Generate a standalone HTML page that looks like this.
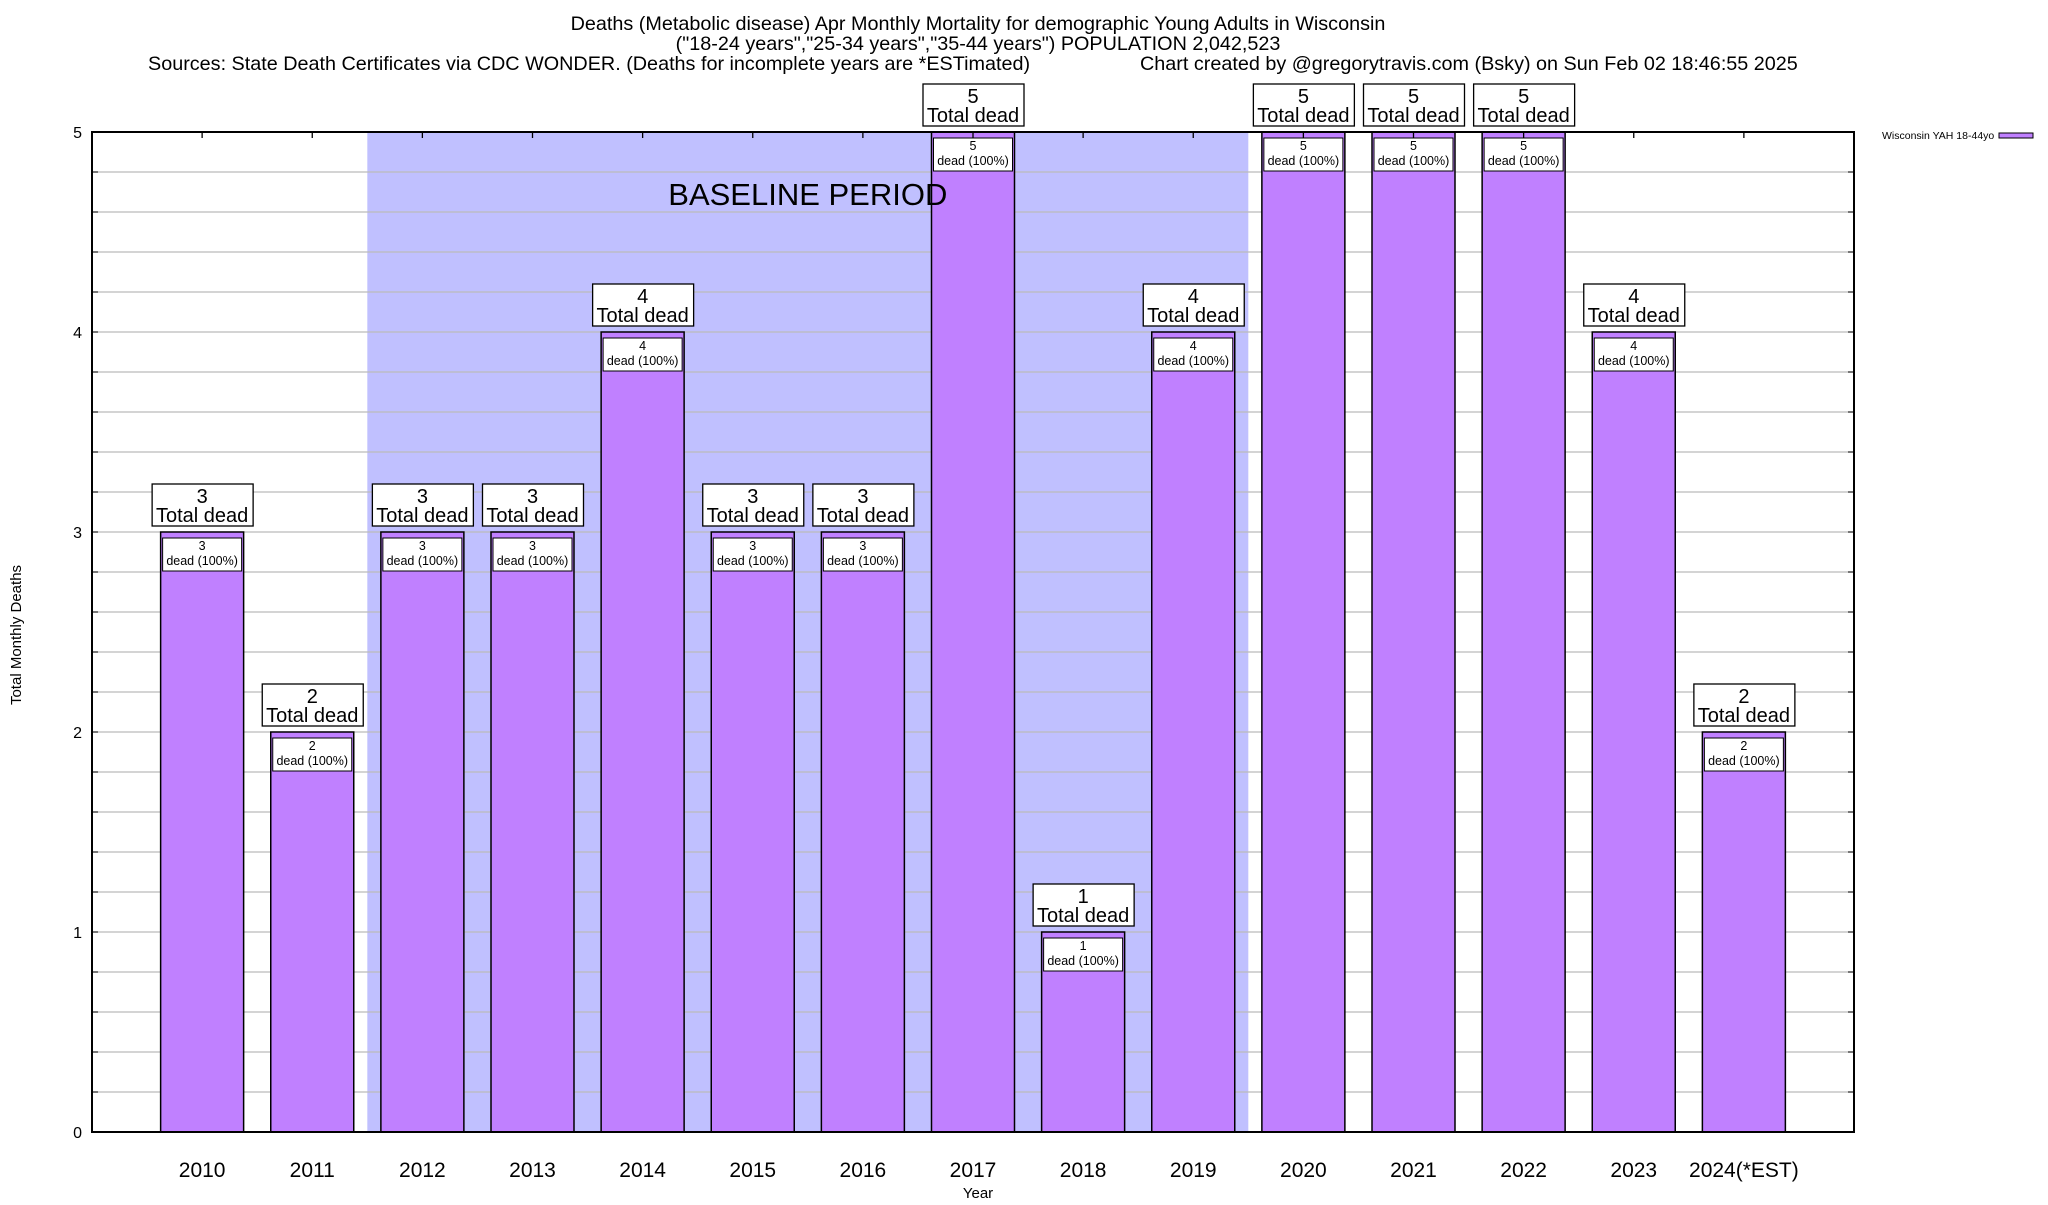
<!DOCTYPE html>
<html><head><meta charset="utf-8"><style>
body{margin:0;background:#fff;}
svg text{font-family:"Liberation Sans",sans-serif;fill:#000;}
</style></head><body>
<svg id="chart" width="2048" height="1200" xmlns="http://www.w3.org/2000/svg">
<text x="978" y="30" font-size="19.8" text-anchor="middle">Deaths (Metabolic disease) Apr Monthly Mortality for demographic Young Adults in Wisconsin</text>
<text x="978" y="50" font-size="19.8" text-anchor="middle">("18-24 years","25-34 years","35-44 years") POPULATION 2,042,523</text>
<text x="148" y="70" font-size="19.8">Sources: State Death Certificates via CDC WONDER. (Deaths for incomplete years are *ESTimated)</text>
<text x="1140" y="70" font-size="19.8">Chart created by @gregorytravis.com (Bsky) on Sun Feb 02 18:46:55 2025</text>
<g id="plot"></g>
<text x="1882" y="139" font-size="10.5">Wisconsin YAH 18-44yo</text>
<rect x="1999" y="133" width="34" height="5" fill="#c080ff" stroke="#000" stroke-width="1"/>
<text transform="translate(21,635) rotate(-90)" font-size="15" text-anchor="middle">Total Monthly Deaths</text>
<text x="978" y="1198" font-size="15" text-anchor="middle">Year</text>
</svg>
<script>
const categories=["2010","2011","2012","2013","2014","2015","2016","2017","2018","2019","2020","2021","2022","2023","2024(*EST)"];
const deaths=[3,2,3,3,4,3,3,5,1,4,5,5,5,4,2];
const yTicks=[0,1,2,3,4,5];
const baselineStart=1.5, baselineEnd=9.5;

const L=92,R=1854,T=132,B=1132,YMAX=5;
const slot=(R-L)/(categories.length+1);
function xs(i){return L+(i+1)*slot;}
function ys(v){return B-(v/YMAX)*(B-T);}
const NS="http://www.w3.org/2000/svg";
const g=document.getElementById('plot');
function mk(tag,attrs,parent){const e=document.createElementNS(NS,tag);for(const k in attrs)e.setAttribute(k,attrs[k]);(parent||g).appendChild(e);return e;}

let sh=mk('rect',{x:xs(baselineStart),y:T,width:xs(baselineEnd)-xs(baselineStart),height:B-T,fill:'#c0c0ff'});



for(let v=0.2;v<YMAX-0.01;v+=0.2){
  let gl=mk('line',{x1:L,x2:R,y1:ys(v),y2:ys(v),stroke:'#bbb','stroke-width':1.3});
  
  
  mk('line',{x1:L,x2:L+6,y1:ys(v),y2:ys(v),stroke:'#000','stroke-width':1});
  mk('line',{x1:R-6,x2:R,y1:ys(v),y2:ys(v),stroke:'#000','stroke-width':1});
}
yTicks.forEach(v=>{
  let t=mk('text',{x:82,y:ys(v)+6,'font-size':16,'text-anchor':'end'});
  t.textContent=String(v);
  
  
});

const bw=83;
categories.forEach((c,i)=>{
  const cx=xs(i), v=deaths[i], yt=ys(v);
  let b=mk('rect',{x:cx-bw/2,y:yt,width:bw,height:B-yt,fill:'#c080ff',stroke:'#000','stroke-width':1.5});
  
  
  let ib=mk('rect',{x:cx-bw/2+2,y:yt+6,width:bw-4,height:33,fill:'#fff',stroke:'#000','stroke-width':1});
  
  
  let t1=mk('text',{x:cx,y:yt+18,'font-size':12.5,'text-anchor':'middle'});t1.textContent=String(v);
  
  
  let t2=mk('text',{x:cx,y:yt+33,'font-size':12.5,'text-anchor':'middle'});t2.textContent='dead (100%)';
  
  
  let tb=mk('rect',{x:cx-50,y:yt-48,width:101,height:42,fill:'#fff',stroke:'#000','stroke-width':1.3});
  
  
  let t3=mk('text',{x:cx,y:yt-29,'font-size':20,'text-anchor':'middle'});t3.textContent=String(v);
  
  
  let t4=mk('text',{x:cx,y:yt-10,'font-size':20,'text-anchor':'middle'});t4.textContent='Total dead';
  
  
  mk('line',{x1:cx,x2:cx,y1:T,y2:T+6,stroke:'#000','stroke-width':1.3});
  let xl=mk('text',{x:cx,y:1177,'font-size':21,'text-anchor':'middle'});xl.textContent=c;
  
  
});
let bt=mk('text',{x:(xs(baselineStart)+xs(baselineEnd))/2,y:205,'font-size':31,'text-anchor':'middle'});
bt.textContent='BASELINE PERIOD';


let fr=mk('rect',{x:L,y:T,width:R-L,height:B-T,fill:'none',stroke:'#000','stroke-width':2});


</script>
</body></html>
